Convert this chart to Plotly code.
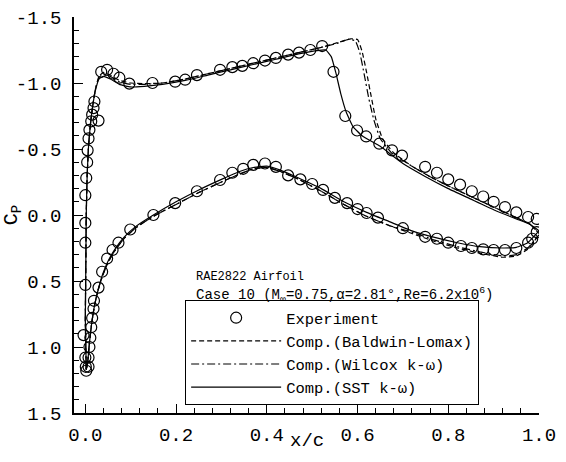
import plotly.graph_objects as go

# ---------------- data ----------------
exp_x_up = [0.995, 0.976, 0.95, 0.925, 0.90, 0.877, 0.852, 0.826, 0.80, 0.775, 0.749, 0.698, 0.676,
            0.648, 0.619, 0.599, 0.573, 0.547, 0.522, 0.496, 0.471, 0.447, 0.42, 0.396, 0.37, 0.346,
            0.324, 0.297, 0.246, 0.22, 0.198, 0.148, 0.097, 0.075, 0.062, 0.048, 0.035, 0.029, 0.02,
            0.018, 0.015, 0.013, 0.009, 0.007, 0.005, 0.004, 0.002, 0.0, 0.0, 0.0, 0.0, -0.004, 0.0, 0.001]
exp_cp_up = [0.03, 0.015, -0.02, -0.06, -0.10, -0.14, -0.18, -0.23, -0.27, -0.32, -0.365, -0.45, -0.49,
             -0.54, -0.595, -0.64, -0.75, -1.085, -1.28, -1.25, -1.23, -1.215, -1.19, -1.17, -1.15, -1.13,
             -1.12, -1.10, -1.06, -1.025, -1.01, -1.0, -0.995, -1.04, -1.07, -1.10, -1.085, -0.715, -0.86,
             -0.81, -0.76, -0.71, -0.645, -0.58, -0.49, -0.40, -0.28, -0.15, 0.06, 0.21, 0.53, 0.91, 1.08, 1.15]

exp_x_lo = [0.002, 0.007, 0.007, 0.009, 0.011, 0.013, 0.015, 0.018, 0.019, 0.029, 0.037, 0.048, 0.06,
            0.073, 0.099, 0.15, 0.198, 0.246, 0.297, 0.324, 0.348, 0.37, 0.396, 0.42, 0.447, 0.474, 0.50,
            0.524, 0.55, 0.577, 0.60, 0.62, 0.645, 0.70, 0.749, 0.775, 0.80, 0.828, 0.852, 0.877, 0.90,
            0.925, 0.95, 0.976, 0.985, 0.995]
exp_cp_lo = [1.18, 1.15, 1.08, 1.0, 0.93, 0.85, 0.78, 0.71, 0.65, 0.55, 0.43, 0.33, 0.265, 0.21, 0.11,
             0.0, -0.09, -0.18, -0.265, -0.32, -0.35, -0.38, -0.39, -0.365, -0.30, -0.27, -0.235, -0.19,
             -0.13, -0.09, -0.045, -0.015, 0.02, 0.10, 0.165, 0.18, 0.21, 0.235, 0.25, 0.26, 0.265, 0.265,
             0.25, 0.21, 0.18, 0.13]

# SST k-omega
sst_x_up = [0.002, 0.000, 0.001, 0.002, 0.004, 0.007, 0.011, 0.016, 0.022, 0.030, 0.040, 0.055, 0.075,
            0.100, 0.130, 0.170, 0.220, 0.270, 0.320, 0.370, 0.420, 0.470, 0.510, 0.530, 0.542, 0.552,
            0.563, 0.575, 0.590, 0.610, 0.650, 0.700, 0.750, 0.800, 0.850, 0.900, 0.950, 0.980, 1.000]
sst_cp_up = [1.17, 0.80, 0.40, 0.00, -0.30, -0.52, -0.68, -0.82, -0.94, -1.03, -1.05, -1.03, -0.99,
             -0.97, -0.975, -0.99, -1.02, -1.06, -1.10, -1.14, -1.18, -1.22, -1.245, -1.25, -1.20, -1.08,
             -0.92, -0.78, -0.67, -0.60, -0.52, -0.39, -0.29, -0.20, -0.12, -0.04, 0.03, 0.07, 0.12]
sst_x_lo = [0.002, 0.005, 0.009, 0.014, 0.020, 0.028, 0.038, 0.050, 0.065, 0.085, 0.110, 0.150, 0.200,
            0.250, 0.300, 0.340, 0.370, 0.400, 0.430, 0.470, 0.520, 0.570, 0.620, 0.670, 0.720, 0.770,
            0.820, 0.870, 0.920, 0.950, 0.975, 1.000]
sst_cp_lo = [1.17, 1.12, 0.97, 0.82, 0.69, 0.57, 0.45, 0.35, 0.26, 0.17, 0.09, 0.00, -0.10, -0.19, -0.27,
             -0.33, -0.36, -0.37, -0.34, -0.28, -0.20, -0.10, -0.02, 0.05, 0.12, 0.17, 0.21, 0.24, 0.25,
             0.245, 0.21, 0.12]

# Baldwin-Lomax
bl_x_up = [0.002, 0.000, 0.001, 0.002, 0.004, 0.007, 0.011, 0.016, 0.022, 0.030, 0.040, 0.055, 0.075,
           0.100, 0.130, 0.170, 0.220, 0.270, 0.320, 0.370, 0.420, 0.470, 0.520, 0.560, 0.585, 0.600,
           0.610, 0.620, 0.630, 0.640, 0.655, 0.680, 0.720, 0.760, 0.800, 0.850, 0.900, 0.950, 0.980, 1.000]
bl_cp_up = [1.17, 0.80, 0.40, 0.00, -0.30, -0.52, -0.68, -0.82, -0.95, -1.05, -1.08, -1.06, -1.02,
            -1.00, -0.995, -1.00, -1.03, -1.07, -1.11, -1.15, -1.19, -1.23, -1.27, -1.31, -1.335, -1.33,
            -1.24, -1.08, -0.90, -0.73, -0.58, -0.47, -0.37, -0.29, -0.22, -0.14, -0.06, 0.02, 0.07, 0.14]
bl_x_lo = sst_x_lo
bl_cp_lo = [1.17, 1.12, 0.97, 0.82, 0.69, 0.57, 0.46, 0.36, 0.27, 0.18, 0.10, 0.01, -0.08, -0.17, -0.25,
            -0.31, -0.35, -0.36, -0.33, -0.27, -0.18, -0.08, 0.01, 0.08, 0.14, 0.20, 0.25, 0.29, 0.32,
            0.31, 0.26, 0.15]

# Wilcox k-omega
wk_x_up = [0.002, 0.000, 0.001, 0.002, 0.004, 0.007, 0.011, 0.016, 0.022, 0.030, 0.040, 0.055, 0.075,
           0.100, 0.130, 0.170, 0.220, 0.270, 0.320, 0.370, 0.420, 0.470, 0.520, 0.555, 0.580, 0.595,
           0.605, 0.615, 0.625, 0.636, 0.650, 0.675, 0.720, 0.760, 0.800, 0.850, 0.900, 0.950, 0.980, 1.000]
wk_cp_up = [1.17, 0.80, 0.40, 0.00, -0.30, -0.52, -0.68, -0.82, -0.95, -1.04, -1.07, -1.05, -1.01,
            -0.99, -0.99, -1.00, -1.03, -1.07, -1.11, -1.15, -1.19, -1.23, -1.27, -1.30, -1.33, -1.32,
            -1.23, -1.06, -0.88, -0.72, -0.58, -0.47, -0.37, -0.29, -0.22, -0.14, -0.06, 0.02, 0.07, 0.14]
wk_x_lo = sst_x_lo
wk_cp_lo = [1.17, 1.12, 0.97, 0.82, 0.69, 0.57, 0.46, 0.36, 0.27, 0.18, 0.10, 0.01, -0.08, -0.17, -0.25,
            -0.31, -0.35, -0.36, -0.33, -0.27, -0.18, -0.08, 0.01, 0.08, 0.13, 0.19, 0.24, 0.28, 0.31,
            0.30, 0.25, 0.15]

y_ticks = [-1.5, -1.0, -0.5, 0.0, 0.5, 1.0, 1.5]
y_tick_labels = ["-1.5", "-1.0", "-0.5", "0.0", "0.5", "1.0", "1.5"]
x_ticks = [0.0, 0.2, 0.4, 0.6, 0.8, 1.0]
x_tick_labels = ["0.0", "0.2", "0.4", "0.6", "0.8", "1.0"]

FONT = "Liberation Mono, Courier New, monospace"

fig = go.Figure()

line_w = 1.2
bl_dash = "5px,3px"
wk_dash = "8px,3px,2px,3px"

def add_curve(xu, cu, xl, cl, name, dash):
    fig.add_trace(go.Scatter(x=xu, y=cu, mode="lines", name=name, legendgroup=name,
                             line=dict(color="black", width=line_w, dash=dash, shape="spline", smoothing=0.4),
                             showlegend=True))
    fig.add_trace(go.Scatter(x=xl, y=cl, mode="lines", name=name, legendgroup=name,
                             line=dict(color="black", width=line_w, dash=dash, shape="spline", smoothing=0.4),
                             showlegend=False))

fig.add_trace(go.Scatter(x=exp_x_up + exp_x_lo, y=exp_cp_up + exp_cp_lo, mode="markers", name="Experiment",
                         marker=dict(symbol="circle-open", size=11, color="black", line=dict(width=1.2))))
add_curve(bl_x_up, bl_cp_up, bl_x_lo, bl_cp_lo, "Comp.(Baldwin-Lomax)", bl_dash)
add_curve(wk_x_up, wk_cp_up, wk_x_lo, wk_cp_lo, "Comp.(Wilcox k-ω)", wk_dash)
add_curve(sst_x_up, sst_cp_up, sst_x_lo, sst_cp_lo, "Comp.(SST k-ω)", "solid")

fig.add_annotation(x=0.24, y=0.47, xref="x", yref="y", text="RAE2822 Airfoil", showarrow=False,
                   xanchor="left", yanchor="middle", font=dict(family=FONT, size=12, color="black"))
fig.add_annotation(x=0.24, y=0.605, xref="x", yref="y",
                   text="Case 10 (M<sub>∞</sub>=0.75,α=2.81°,Re=6.2x10<sup>6</sup>)", showarrow=False,
                   xanchor="left", yanchor="middle", font=dict(family=FONT, size=14, color="black"))
# x-axis title
fig.add_annotation(x=0.5, y=-0.07, xref="paper", yref="paper", text="x/c", showarrow=False,
                   xanchor="center", yanchor="middle", font=dict(family=FONT, size=19, color="black"))

fig.update_layout(
    width=566, height=462,
    margin=dict(l=74, r=27, t=17, b=49),
    paper_bgcolor="white", plot_bgcolor="white",
    font=dict(family=FONT, color="black"),
    legend=dict(x=0.239, y=0.285, xanchor="left", yanchor="top",
                bordercolor="black", borderwidth=1, bgcolor="white",
                font=dict(family=FONT, size=15.5, color="black"),
                tracegroupgap=0, itemwidth=90, traceorder="normal"),
    xaxis=dict(range=[-0.025, 1.0], showgrid=False, zeroline=False, showline=True, automargin=False,
               linecolor="black", linewidth=1.5, ticks="inside", ticklen=9, tickwidth=1.2,
               tickcolor="black", tickvals=x_ticks, ticktext=x_tick_labels,
               tickfont=dict(family=FONT, size=19, color="black"), ticklabelstandoff=3,
               minor=dict(ticks="inside", ticklen=5, dtick=0.04, tick0=0.0, tickcolor="black", tickwidth=1.0)),
    yaxis=dict(range=[1.5, -1.5], showgrid=False, zeroline=False, showline=True, automargin=False,
               linecolor="black", linewidth=1.5, ticks="inside", ticklen=9, tickwidth=1.2,
               tickcolor="black", tickvals=y_ticks, ticktext=y_tick_labels,
               tickfont=dict(family=FONT, size=19, color="black"), ticklabelstandoff=7,
               minor=dict(ticks="inside", ticklen=5, dtick=0.1, tick0=-1.5, tickcolor="black", tickwidth=1.0),
               title=dict(text="C<sub>P</sub>", font=dict(family=FONT, size=20, color="black"), standoff=0)),
)

fig.write_html("out.html")
